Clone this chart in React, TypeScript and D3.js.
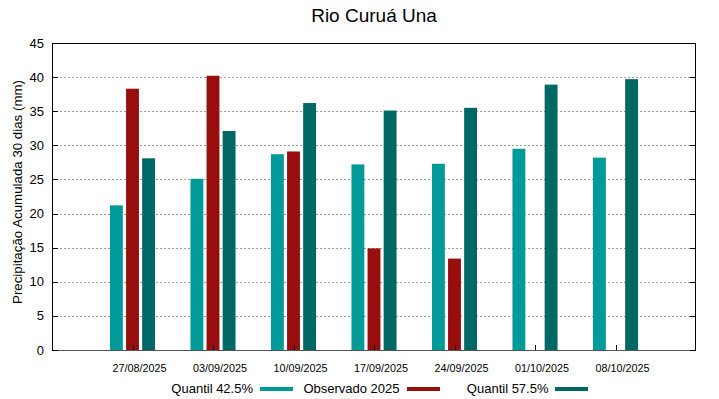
import React from "react";
import * as d3 from "d3";

const categories = ["27/08/2025", "03/09/2025", "10/09/2025", "17/09/2025", "24/09/2025", "01/10/2025", "08/10/2025"];
const quantil425: (number | null)[] = [21.2, 25.1, 28.7, 27.2, 27.3, 29.5, 28.2];
const observado2025: (number | null)[] = [38.3, 40.2, 29.1, 14.9, 13.4, null, null];
const quantil575: (number | null)[] = [28.1, 32.1, 36.2, 35.1, 35.5, 38.9, 39.7];
const yTicks = [0, 5, 10, 15, 20, 25, 30, 35, 40, 45];

const series = [
  { name: "Quantil 42.5%", values: quantil425, color: "#009a98", offset: -0.2 },
  { name: "Observado 2025", values: observado2025, color: "#980e0e", offset: 0 },
  { name: "Quantil 57.5%", values: quantil575, color: "#006864", offset: 0.2 },
];

const W = 719, H = 399;
const left = 52, right = 696, top = 43, bottom = 350;
const FONT = "'Liberation Sans', Arial, sans-serif";

export default function App() {
  const x = d3.scaleLinear().domain([-1, 7]).range([left, right]);
  const y = d3.scaleLinear().domain([0, 45]).range([bottom, top]);
  const bw = x(0.16) - x(0);

  const legendItems = [
    { textEnd: 253, sw: 260 },
    { textEnd: 399.5, sw: 407 },
    { textEnd: 548.5, sw: 555 },
  ];

  return (
    <svg width={W} height={H} style={{ position: "absolute", left: 0, top: 0, background: "#fff" }} fontFamily={FONT}>
      <rect x={0} y={0} width={W} height={H} fill="#fff" />
      {/* grid */}
      {yTicks.filter(t => t > 0 && t < 45).map(t => (
        <line key={t} x1={left} x2={right} y1={Math.round(y(t)) + 0.5} y2={Math.round(y(t)) + 0.5}
          stroke="#a0a0a0" strokeWidth={1} strokeDasharray="2,2" />
      ))}
      {/* bars */}
      {series.map(s => s.values.map((v, i) => v == null ? null : (
        <rect key={s.name + i} x={x(i + s.offset) - bw / 2} y={y(v)} width={bw} height={y(0) - y(v)} fill={s.color} />
      )))}
      {/* axes frame */}
      <rect x={left + 0.5} y={top + 0.5} width={right - left - 1} height={bottom - top} fill="none" stroke="#000" strokeWidth={1} />
      <line x1={left} x2={right} y1={bottom + 0.5} y2={bottom + 0.5} stroke="#555" strokeWidth={1.2} />
      {/* y ticks */}
      {yTicks.map(t => (
        <g key={t}>
          <line x1={left} x2={left + 6} y1={Math.round(y(t)) + 0.5} y2={Math.round(y(t)) + 0.5} stroke="#000" />
          <line x1={right - 6} x2={right} y1={Math.round(y(t)) + 0.5} y2={Math.round(y(t)) + 0.5} stroke="#000" />
          <text x={44} y={y(t)} dy="0.35em" textAnchor="end" fontSize={13} fill="#000">{t}</text>
        </g>
      ))}
      {/* x ticks */}
      {categories.map((c, i) => (
        <g key={c}>
          <line x1={Math.round(x(i)) + 0.5} x2={Math.round(x(i)) + 0.5} y1={bottom} y2={bottom - 5} stroke="#000" />
          <text x={x(i) + 7} y={372} textAnchor="middle" fontSize={10.8} fill="#000">{c}</text>
        </g>
      ))}
      {/* title */}
      <text x={374} y={22} textAnchor="middle" fontSize={19} fill="#000">Rio Curuá Una</text>
      {/* y label */}
      <text transform={`translate(22,${192}) rotate(-90)`} textAnchor="middle" fontSize={13.3} fill="#000">Precipitação Acumulada 30 dias (mm)</text>
      {/* legend */}
      {series.map((s, k) => (
        <g key={s.name}>
          <text x={legendItems[k].textEnd} y={392.5} textAnchor="end" fontSize={13} fill="#000">{s.name}</text>
          <rect x={legendItems[k].sw} y={387} width={33} height={4} fill={s.color} />
        </g>
      ))}
    </svg>
  );
}
